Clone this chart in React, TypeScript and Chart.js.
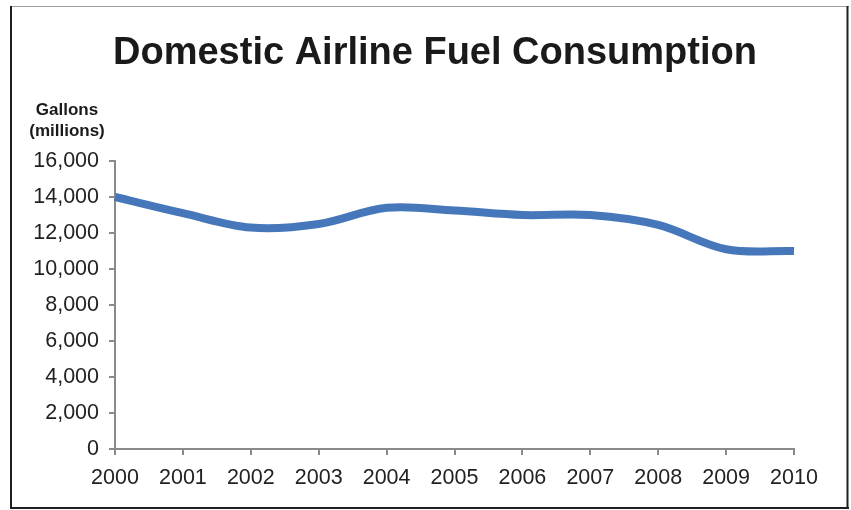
import React, { useEffect, useRef } from "react";
import { Chart, registerables } from "chart.js";

Chart.register(...registerables);

const years = ["2000", "2001", "2002", "2003", "2004", "2005", "2006", "2007", "2008", "2009", "2010"];
const gallonsMillions = [14000, 13100, 12300, 12500, 13400, 13250, 13000, 13000, 12450, 11100, 11000];
const chartTitle = "Domestic Airline Fuel Consumption";
const axisTitleLines = ["Gallons", "(millions)"];

const FONT = "'Liberation Sans', Arial, Helvetica, sans-serif";

const framePlugin = {
  id: "frameAndText",
  beforeDraw(chart: any) {
    const { ctx, width, height } = chart;
    ctx.save();
    ctx.fillStyle = "#ffffff";
    ctx.fillRect(0, 0, width, height);
    // outer frame
    ctx.strokeStyle = "#a0a0a0";
    ctx.lineWidth = 1;
    ctx.beginPath();
    ctx.moveTo(10, 6.5);
    ctx.lineTo(849, 6.5);
    ctx.stroke();
    ctx.strokeStyle = "#1e1e1e";
    ctx.lineWidth = 2;
    ctx.beginPath();
    ctx.moveTo(11, 6);
    ctx.lineTo(11, 509);
    ctx.moveTo(10, 508);
    ctx.lineTo(849, 508);
    ctx.moveTo(847.5, 6);
    ctx.lineTo(847.5, 509);
    ctx.stroke();
    // title
    ctx.fillStyle = "#1a1a1a";
    ctx.textAlign = "center";
    ctx.textBaseline = "alphabetic";
    ctx.font = `bold 38px ${FONT}`;
    ctx.fillText(chartTitle, 435, 64);
    // value axis caption
    ctx.font = `bold 17px ${FONT}`;
    ctx.fillText(axisTitleLines[0], 67, 115);
    ctx.fillText(axisTitleLines[1], 67, 136);
    ctx.restore();
  },
};

export default function App() {
  const ref = useRef<HTMLCanvasElement | null>(null);

  useEffect(() => {
    document.body.style.margin = "0";
    const canvas = ref.current;
    if (!canvas) return;
    const chart = new Chart(canvas, {
      type: "line",
      data: {
        labels: years,
        datasets: [
          {
            data: gallonsMillions,
            borderColor: "#4677ba",
            borderWidth: 8,
            borderCapStyle: "butt",
            pointRadius: 0,
            tension: 0.35,
            fill: false,
          },
        ],
      },
      options: {
        animation: false,
        responsive: false,
        maintainAspectRatio: false,
        layout: { padding: { top: 161, right: 57, left: 0, bottom: 0 } },
        plugins: {
          legend: { display: false },
          title: { display: false },
          tooltip: { enabled: false },
        },
        scales: {
          x: {
            offset: false,
            grid: {
              drawOnChartArea: false,
              drawTicks: true,
              tickLength: 6,
              color: "#8a8a8a",
              lineWidth: 2,
            },
            border: { color: "#8a8a8a", width: 2 },
            ticks: {
              color: "#222222",
              font: { family: FONT, size: 21.5 },
              padding: 10,
              maxRotation: 0,
              autoSkip: false,
            },
            afterFit(scale: any) {
              scale.height = 61;
            },
          },
          y: {
            min: 0,
            max: 16000,
            grid: {
              drawOnChartArea: false,
              drawTicks: true,
              tickLength: 6,
              color: "#8a8a8a",
              lineWidth: 2,
            },
            border: { color: "#8a8a8a", width: 2 },
            ticks: {
              stepSize: 2000,
              color: "#222222",
              font: { family: FONT, size: 21.5 },
              padding: 10,
              callback: (v: any) => Number(v).toLocaleString("en-US"),
            },
            afterFit(scale: any) {
              scale.width = 115;
            },
          },
        },
      },
      plugins: [framePlugin],
    });
    return () => chart.destroy();
  }, []);

  return (
    <div style={{ position: "absolute", left: 0, top: 0, width: 851, height: 510 }}>
      <canvas ref={ref} width={851} height={510} style={{ display: "block" }} />
    </div>
  );
}
